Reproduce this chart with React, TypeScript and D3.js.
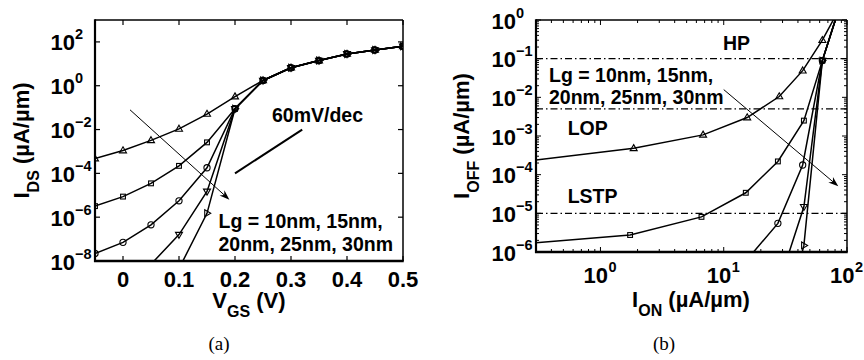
import React from 'react';
import * as d3 from 'd3';

// ---------------- data (a): I_DS vs V_GS ----------------
const VGS = [-0.1, -0.05, 0, 0.05, 0.1, 0.15, 0.2, 0.25, 0.3, 0.35, 0.4, 0.45, 0.5];
const IDS_LG10 = [2e-4, 4.7e-4, 1.1e-3, 3.2e-3, 1.07e-2, 5.1e-2, 0.32, 1.74, 6.6, 14.1, 28.2, 42.7, 63];
const IDS_LG15 = [1.26e-6, 3.2e-6, 8.7e-6, 3.5e-5, 2.2e-4, 2.6e-3, 0.089, 1.74, 6.6, 14.1, 28.2, 42.7, 63];
const IDS_LG20 = [8e-9, 2.2e-8, 7.1e-8, 4.5e-7, 5.6e-6, 1.8e-4, 0.089, 1.74, 6.6, 14.1, 28.2, 42.7, 63];
const IDS_LG25 = [null, null, null, 7.1e-9, 1.6e-7, 1.5e-5, 0.089, 1.74, 6.6, 14.1, 28.2, 42.7, 63];
const IDS_LG30 = [null, null, null, null, 4.5e-9, 1.5e-6, 0.089, 1.74, 6.6, 14.1, 28.2, 42.7, 63];

// ---------------- data (b): I_OFF vs I_ON ----------------
const ION_LG10 = [0.275, 1.86, 6.8, 15.5, 28.2, 43.7, 63.1, 85];
const IOFF_LG10 = [2.3e-4, 4.8e-4, 1.07e-3, 3.0e-3, 1.05e-2, 4.9e-2, 0.3, 1.74];
const ION_LG15 = [0.089, 1.74, 6.6, 15.1, 27.5, 44.7, 63.1, 85];
const IOFF_LG15 = [1.26e-6, 2.75e-6, 8.1e-6, 3.4e-5, 2.2e-4, 2.5e-3, 0.089, 1.74];
const ION_LG20 = [6.6, 14.1, 27.5, 43.7, 63.1, 85];
const IOFF_LG20 = [7.1e-8, 4.5e-7, 5.5e-6, 1.78e-4, 0.089, 1.74];
const ION_LG25 = [28.2, 44.7, 63.1, 85];
const IOFF_LG25 = [1.6e-7, 1.48e-5, 0.089, 1.74];
const ION_LG30 = [28.2, 44.7, 63.1, 85];
const IOFF_LG30 = [4.5e-9, 1.48e-6, 0.089, 1.74];

// spec levels
const SPEC_NAMES = ['HP', 'LOP', 'LSTP'];
const SPEC_IOFF = [1e-1, 5e-3, 1e-5];

// ticks
const A_XTICKS = [0, 0.1, 0.2, 0.3, 0.4, 0.5];
const A_XTICK_LABELS = ['0', '0.1', '0.2', '0.3', '0.4', '0.5'];
const A_YEXP = [-8, -6, -4, -2, 0, 2];
const B_XEXP = [0, 1, 2];
const B_YEXP = [-6, -5, -4, -3, -2, -1, 0];

// annotations (data coords)
const A_SLOPE_LINE = [[0.2, 1e-4], [0.32, 1e-2]];
const A_ARROW = [[0.0125, 10 ** -1.1], [0.19, 10 ** -5.2]];
const B_ARROW = [[10, 10 ** -1.8], [85, 10 ** -4.3]];

const FONT = "'Liberation Sans', Arial, Helvetica, sans-serif";
const SERIF = "'Liberation Serif', 'Times New Roman', serif";

const xA = d3.scaleLinear().domain([-0.05, 0.5]).range([95, 403]);
const yA = d3.scaleLog().domain([1e-8, 1e3]).range([261, 20]);
const xB = d3.scaleLog().domain([0.3, 100]).range([536, 847]);
const yB = d3.scaleLog().domain([1e-6, 1]).range([252, 20]);

type MType = '^' | 's' | 'o' | 'v' | '>';
const MARKERS: MType[] = ['^', 's', 'o', 'v', '>'];

function Marker({ t, x, y }: { t: MType; x: number; y: number }) {
  const common = { fill: 'none', stroke: '#000', strokeWidth: 1.1 };
  if (t === 'o') return <circle cx={x} cy={y} r={3.1} {...common} />;
  if (t === 's') return <rect x={x - 2.4} y={y - 2.4} width={4.8} height={4.8} {...common} />;
  const w = 7, h = 6;
  let pts: [number, number][];
  if (t === '^') pts = [[0, -h * 0.62], [w / 2, h * 0.38], [-w / 2, h * 0.38]];
  else if (t === 'v') pts = [[0, h * 0.62], [w / 2, -h * 0.38], [-w / 2, -h * 0.38]];
  else pts = [[h * 0.62, 0], [-h * 0.38, -w / 2], [-h * 0.38, w / 2]];
  return <polygon points={pts.map(p => `${x + p[0]},${y + p[1]}`).join(' ')} {...common} />;
}

function Arrow({ p0, p1 }: { p0: [number, number]; p1: [number, number] }) {
  const ang = Math.atan2(p1[1] - p0[1], p1[0] - p0[0]);
  const L = 10, W = 3.6, N = 7;
  const c = Math.cos(ang), s = Math.sin(ang);
  const pt = (a: number, b: number) => `${p1[0] - a * c - b * -s},${p1[1] - a * s - b * c}`;
  return (
    <g>
      <line x1={p0[0]} y1={p0[1]} x2={p1[0] - 4 * c} y2={p1[1] - 4 * s} stroke="#000" strokeWidth={1} />
      <polygon points={`${p1[0]},${p1[1]} ${pt(L, W)} ${pt(N, 0)} ${pt(L, -W)}`} fill="#000" />
    </g>
  );
}

function YPow({ x, y, exp }: { x: number; y: number; exp: number }) {
  const e = exp < 0 ? '\u2212' + Math.abs(exp) : String(exp);
  return (
    <g fontFamily={FONT} fontWeight="bold">
      <text x={x} y={y + 8.5} fontSize={22} textAnchor="end">10</text>
      <text x={x} y={y - 2.5} fontSize={14.5} textAnchor="start">{e}</text>
    </g>
  );
}

function XPow({ x, y, exp }: { x: number; y: number; exp: number }) {
  const e = exp < 0 ? '\u2212' + Math.abs(exp) : String(exp);
  return (
    <g fontFamily={FONT} fontWeight="bold">
      <text x={x + 7.5} y={y} fontSize={22} textAnchor="end">10</text>
      <text x={x + 8} y={y - 11.5} fontSize={14.5} textAnchor="start">{e}</text>
    </g>
  );
}

function PanelA() {
  const L = 95, R = 403, T = 20, B = 261;
  const series = [IDS_LG10, IDS_LG15, IDS_LG20, IDS_LG25, IDS_LG30];
  const line = d3.line<[number, number | null]>()
    .defined(d => d[1] != null)
    .x(d => xA(d[0]))
    .y(d => yA(d[1] as number));
  return (
    <g>
      <defs>
        <clipPath id="clipA"><rect x={L} y={T} width={R - L} height={B - T} /></clipPath>
      </defs>
      <g clipPath="url(#clipA)">
        {series.map((s, i) => (
          <path key={i} d={line(VGS.map((v, j) => [v, s[j]]))!} fill="none" stroke="#000" strokeWidth={1.5} />
        ))}
        {series.map((s, i) => VGS.map((v, j) => s[j] == null ? null :
          <Marker key={`${i}-${j}`} t={MARKERS[i]} x={xA(v)} y={yA(s[j] as number)} />))}
      </g>
      {/* slope line */}
      <line x1={xA(A_SLOPE_LINE[0][0])} y1={yA(A_SLOPE_LINE[0][1])} x2={xA(A_SLOPE_LINE[1][0])} y2={yA(A_SLOPE_LINE[1][1])} stroke="#000" strokeWidth={2} />
      <text x={272} y={121.5} fontFamily={FONT} fontWeight="bold" fontSize={19.5}>60mV/dec</text>
      <Arrow p0={[xA(A_ARROW[0][0]), yA(A_ARROW[0][1])]} p1={[xA(A_ARROW[1][0]), yA(A_ARROW[1][1])]} />
      <text fontFamily={FONT} fontWeight="bold" fontSize={19.5}>
        <tspan x={218.5} y={228}>Lg = 10nm, 15nm,</tspan>
        <tspan x={218.5} y={250.5}>20nm, 25nm, 30nm</tspan>
      </text>
      {/* frame */}
      <line x1={L} y1={T} x2={R} y2={T} stroke="#000" strokeWidth={1.5} />
      <line x1={R} y1={T} x2={R} y2={B} stroke="#000" strokeWidth={1.5} />
      <line x1={L} y1={T - 0.75} x2={L} y2={B + 1} stroke="#000" strokeWidth={2.2} />
      <line x1={L - 1} y1={B} x2={R + 0.75} y2={B} stroke="#000" strokeWidth={2.4} />
      {A_XTICKS.map((t, i) => (
        <g key={i}>
          <line x1={xA(t)} y1={B} x2={xA(t)} y2={B - 5} stroke="#000" strokeWidth={1.2} />
          <line x1={xA(t)} y1={T} x2={xA(t)} y2={T + 5} stroke="#000" strokeWidth={1.2} />
          <text x={xA(t)} y={286.7} textAnchor="middle" fontFamily={FONT} fontWeight="bold" fontSize={22}>{A_XTICK_LABELS[i]}</text>
        </g>
      ))}
      {A_YEXP.map(e => (
        <g key={e}>
          <line x1={L} y1={yA(10 ** e)} x2={L + 5} y2={yA(10 ** e)} stroke="#000" strokeWidth={1.2} />
          <line x1={R} y1={yA(10 ** e)} x2={R - 5} y2={yA(10 ** e)} stroke="#000" strokeWidth={1.2} />
          <YPow x={75} y={yA(10 ** e)} exp={e} />
        </g>
      ))}
      {/* axis labels */}
      <text x={249} y={308} textAnchor="middle" fontFamily={FONT} fontWeight="bold" fontSize={22}>
        V<tspan fontSize={16} dy={9}>GS</tspan><tspan dy={-9}> (V)</tspan>
      </text>
      <text transform="translate(28.5,140.5) rotate(-90)" textAnchor="middle" fontFamily={FONT} fontWeight="bold" fontSize={22}>
        I<tspan fontSize={16} dy={10}>DS</tspan><tspan dy={-10}> (µA/µm)</tspan>
      </text>
      <text x={219} y={350} textAnchor="middle" fontFamily={SERIF} fontSize={19}>(a)</text>
    </g>
  );
}

function PanelB() {
  const L = 536, R = 847, T = 20, B = 252;
  const ions = [ION_LG10, ION_LG15, ION_LG20, ION_LG25, ION_LG30];
  const ioffs = [IOFF_LG10, IOFF_LG15, IOFF_LG20, IOFF_LG25, IOFF_LG30];
  const line = d3.line<[number, number]>().x(d => xB(d[0])).y(d => yB(d[1]));
  const xt = xB.ticks();
  const yt = yB.ticks();
  const isMajor = (v: number) => Math.abs(Math.log10(v) - Math.round(Math.log10(v))) < 1e-6;
  const specY = [50, 135, 203.3];
  const specX = [723, 567.7, 567.7];
  return (
    <g>
      <defs>
        <clipPath id="clipB"><rect x={L} y={T} width={R - L} height={B - T} /></clipPath>
      </defs>
      {SPEC_IOFF.map((v, i) => (
        <line key={i} x1={L} x2={R} y1={yB(v)} y2={yB(v)} stroke="#000" strokeWidth={1.3} strokeDasharray="7,3,1.5,3" />
      ))}
      <g clipPath="url(#clipB)">
        {ions.map((s, i) => (
          <path key={i} d={line(s.map((v, j) => [v, ioffs[i][j]]))!} fill="none" stroke="#000" strokeWidth={1.5} />
        ))}
        {ions.map((s, i) => s.map((v, j) => (
          <Marker key={`${i}-${j}`} t={MARKERS[i]} x={xB(v)} y={yB(ioffs[i][j])} />
        )))}
      </g>
      <Arrow p0={[xB(B_ARROW[0][0]), yB(B_ARROW[0][1])]} p1={[xB(B_ARROW[1][0]), yB(B_ARROW[1][1])]} />
      {SPEC_NAMES.map((n, i) => (
        <text key={n} x={specX[i]} y={specY[i]} fontFamily={FONT} fontWeight="bold" fontSize={19.5}>{n}</text>
      ))}
      <text fontFamily={FONT} fontWeight="bold" fontSize={19.5}>
        <tspan x={549} y={81.7}>Lg = 10nm, 15nm,</tspan>
        <tspan x={549} y={104.3}>20nm, 25nm, 30nm</tspan>
      </text>
      {/* frame */}
      <line x1={L} y1={T} x2={R} y2={T} stroke="#000" strokeWidth={1.5} />
      <line x1={R} y1={T} x2={R} y2={B} stroke="#000" strokeWidth={1.5} />
      <line x1={L} y1={T - 0.75} x2={L} y2={B + 1} stroke="#000" strokeWidth={2.2} />
      <line x1={L - 1} y1={B} x2={R + 0.75} y2={B} stroke="#000" strokeWidth={2.4} />
      {xt.map((t, i) => {
        const len = isMajor(t) ? 5 : 3;
        return (
          <g key={i}>
            <line x1={xB(t)} y1={B} x2={xB(t)} y2={B - len} stroke="#000" strokeWidth={1} />
            <line x1={xB(t)} y1={T} x2={xB(t)} y2={T + len} stroke="#000" strokeWidth={1} />
          </g>
        );
      })}
      {yt.map((t, i) => {
        const len = isMajor(t) ? 5 : 3;
        return (
          <g key={i}>
            <line x1={L} y1={yB(t)} x2={L + len} y2={yB(t)} stroke="#000" strokeWidth={1} />
            <line x1={R} y1={yB(t)} x2={R - len} y2={yB(t)} stroke="#000" strokeWidth={1} />
          </g>
        );
      })}
      {B_XEXP.map(e => <XPow key={e} x={xB(10 ** e)} y={283.3} exp={e} />)}
      {B_YEXP.map(e => <YPow key={e} x={516} y={yB(10 ** e)} exp={e} />)}
      <text x={691} y={306.7} textAnchor="middle" fontFamily={FONT} fontWeight="bold" fontSize={22}>
        I<tspan fontSize={16} dy={9}>ON</tspan><tspan dy={-9}> (µA/µm)</tspan>
      </text>
      <text transform="translate(469,136) rotate(-90)" textAnchor="middle" fontFamily={FONT} fontWeight="bold" fontSize={22}>
        I<tspan fontSize={16} dy={10}>OFF</tspan><tspan dy={-10}> (µA/µm)</tspan>
      </text>
      <text x={664} y={350} textAnchor="middle" fontFamily={SERIF} fontSize={19}>(b)</text>
    </g>
  );
}

export default function App() {
  return (
    <svg width={864} height={360} viewBox="0 0 864 360" style={{ position: 'absolute', left: 0, top: 0, background: '#fff' }}>
      <rect width={864} height={360} fill="#fff" />
      <PanelA />
      <PanelB />
    </svg>
  );
}
